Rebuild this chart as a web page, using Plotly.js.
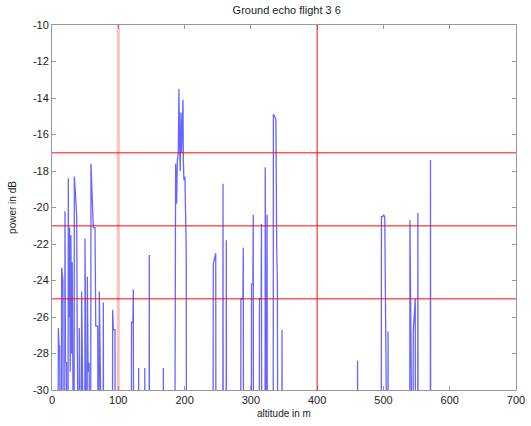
<!DOCTYPE html>
<html>
<head>
<meta charset="utf-8">
<script src="https://cdn.plot.ly/plotly-3.0.1.min.js"></script>
<style>html,body{margin:0;padding:0;background:#fff;}#chart{width:531px;height:426px;}</style>
</head>
<body>
<div id="chart"></div>
<script>
// Echo power samples (dB) along altitude (m); -40 = below display floor
const altitude = [
  8.8, 9.6, 10.4, 11.5, 12.3,
  13.8, 14.6, 15.4, 16.5, 17.2,
  19.0, 19.6, 20.3, 22.0, 22.5,
  24.0, 24.6, 25.3, 26.5, 27.5, 28.5, 29.5, 30.5, 31.5, 32.5,
  33.2, 33.7, 35.5, 37.2, 38.0, 39.0,
  40.8, 41.2, 42.5, 44.0, 44.7, 45.5, 47.0,
  49.3, 49.8, 51.0, 52.8, 53.3, 54.5, 56.0, 57.5,
  58.3, 58.8, 60.5, 62.3, 64.9, 66.0, 68.9, 69.5, 70.3, 71.4, 72.2,
  76.9, 77.4, 78.0,
  91.0, 91.5, 92.5, 95.0, 95.5,
  119.5, 120.0, 122.0, 122.7, 123.3,
  130.3, 130.7, 131.1,
  139.6, 140.0, 140.4,
  146.4, 146.8, 147.2,
  167.6, 168.0, 168.4,
  185.0, 185.5, 186.5, 188.0, 189.0, 190.5, 191.5, 192.5, 193.5, 194.5, 195.5, 196.5, 197.6, 198.2, 199.0, 200.5, 201.5, 202.5, 203.0,
  242.8, 243.3, 246.0, 247.0, 247.5,
  257.6, 258.0, 258.4,
  262.6, 263.0, 263.4,
  284.6, 285.0, 288.0, 288.6, 289.0,
  300.6, 301.0, 303.0, 303.6, 304.0,
  312.6, 313.0, 315.5, 316.0, 316.4,
  321.3, 321.7, 322.1,
  324.1, 324.5, 324.9,
  333.6, 334.0, 336.0, 337.8, 339.0, 340.0, 341.0,
  346.6, 347.0, 347.4,
  460.6, 461.0, 461.4,
  496.6, 497.0, 499.0, 500.0, 502.0, 502.4,
  506.6, 507.0, 507.4,
  539.6, 540.0, 540.4,
  544.6, 545.0, 548.0, 548.4,
  551.6, 552.0, 552.4,
  570.6, 571.0, 571.4
];
const power = [
  -40, -26.6, -27.5, -27.6, -40,
  -40, -23.3, -24.0, -24.0, -40,
  -40, -20.2, -28.5, -28.5, -40,
  -40, -18.4, -26.0, -21.1, -29.0, -21.5, -28.0, -23.0, -29.0, -40,
  -40, -18.3, -19.5, -20.4, -26.5, -40,
  -40, -26.6, -29.0, -40, -24.6, -29.0, -40,
  -40, -21.7, -28.0, -40, -23.8, -29.0, -28.5, -40,
  -40, -17.6, -19.5, -21.1, -21.1, -26.5, -26.5, -28.0, -40, -24.6, -40,
  -40, -25.2, -40,
  -40, -25.6, -26.7, -26.7, -40,
  -40, -26.3, -26.3, -24.5, -40,
  -40, -28.8, -40,
  -40, -28.8, -40,
  -40, -22.6, -40,
  -40, -28.8, -40,
  -40, -17.8, -17.6, -19.8, -17.5, -17.0, -13.5, -16.5, -18.0, -14.8, -17.0, -15.5, -14.1, -17.5, -18.5, -18.3, -20.5, -22.3, -40,
  -40, -23.1, -22.6, -22.5, -40,
  -40, -18.7, -40,
  -40, -21.8, -40,
  -40, -25.0, -25.0, -22.2, -40,
  -40, -24.2, -24.2, -20.4, -40,
  -40, -25.0, -25.0, -20.9, -40,
  -40, -17.8, -40,
  -40, -20.4, -40,
  -40, -14.9, -15.0, -15.2, -22.3, -24.0, -40,
  -40, -26.7, -40,
  -40, -28.4, -40,
  -40, -20.5, -20.5, -20.4, -20.5, -40,
  -40, -26.8, -40,
  -40, -20.7, -40,
  -40, -26.8, -25.0, -40,
  -40, -20.3, -40,
  -40, -17.4, -40
];
// Reference marker lines
const refAltitudes = [100, 400];
const refPowers = [-17, -21, -25];
const xTicks = [0, 100, 200, 300, 400, 500, 600, 700];
const yTicks = [-30, -28, -26, -24, -22, -20, -18, -16, -14, -12, -10];

const shapes = [];
refAltitudes.forEach((a, i) => shapes.push({
  type: 'line', xref: 'x', yref: 'paper', x0: a, x1: a, y0: 0, y1: 1,
  line: i === 0 ? {color: 'rgba(255,70,70,0.35)', width: 3} : {color: 'rgba(255,0,0,0.7)', width: 1.4},
  layer: 'above'
}));
refPowers.forEach(p => shapes.push({
  type: 'line', xref: 'paper', yref: 'y', x0: 0, x1: 1, y0: p, y1: p,
  line: {color: 'rgba(255,0,0,0.65)', width: 1.5}, layer: 'above'
}));

const font = 'Liberation Sans, Arial, sans-serif';
Plotly.newPlot('chart', [{
  type: 'scatter', mode: 'lines', x: altitude, y: power,
  line: {color: 'rgba(0,0,255,0.6)', width: 1.3},
  cliponaxis: true, hoverinfo: 'skip', showlegend: false
}], {
  width: 531, height: 426,
  margin: {l: 52, r: 15, t: 25, b: 36},
  paper_bgcolor: '#fff', plot_bgcolor: '#fff',
  font: {family: font, size: 11, color: '#222'},
  title: {text: 'Ground echo flight 3 6', font: {family: font, size: 11, color: '#222'}, x: 0.54, xanchor: 'center', y: 0.985, yanchor: 'top'},
  xaxis: {
    range: [0, 700], tickvals: xTicks, ticktext: xTicks.map(String),
    showgrid: false, zeroline: false, showline: true, linecolor: '#999', linewidth: 1,
    mirror: 'ticks', ticks: 'inside', ticklen: 4, tickcolor: '#999',
    tickfont: {family: font, size: 11, color: '#222'},
    title: {text: 'altitude in m', font: {family: font, size: 10, color: '#222'}, standoff: 4}
  },
  yaxis: {
    range: [-30, -10], tickvals: yTicks, ticktext: yTicks.map(String),
    showgrid: false, zeroline: false, showline: true, linecolor: '#999', linewidth: 1,
    mirror: 'ticks', ticks: 'inside', ticklen: 4, tickcolor: '#999',
    tickfont: {family: font, size: 11, color: '#222'},
    title: {text: 'power in dB', font: {family: font, size: 10, color: '#222'}, standoff: 14}
  },
  shapes: shapes
}, {staticPlot: true});
</script>
</body>
</html>
